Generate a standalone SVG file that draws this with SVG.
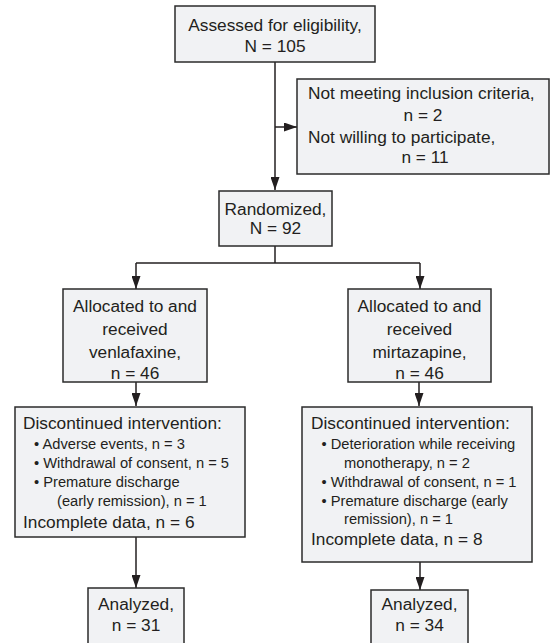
<svg xmlns="http://www.w3.org/2000/svg" width="551" height="643" viewBox="0 0 551 643">
<defs>
<style>
.box{fill:#f1f2f4;stroke:#2b2b2b;stroke-width:1.5}
.t{font-family:"Liberation Sans",Arial,sans-serif;font-size:17.3px;fill:#231f20}
.s{font-family:"Liberation Sans",Arial,sans-serif;font-size:14.7px;fill:#231f20}
.c{text-anchor:middle}
.ln{fill:none;stroke:#231f20;stroke-width:1.5}
</style>
<marker id="ah" markerUnits="userSpaceOnUse" markerWidth="13" markerHeight="9" refX="13" refY="4.5" orient="auto">
<path d="M0,0 L13,4.5 L0,9 z" fill="#231f20"/>
</marker>
</defs>
<rect width="551" height="643" fill="#fff"/>
<g id="connectors">
<path class="ln" d="M275,62 V190" marker-end="url(#ah)"/>
<path class="ln" d="M275,127 H297" marker-end="url(#ah)"/>
<path class="ln" d="M275,246 V263"/>
<path class="ln" d="M136,263 H420"/>
<path class="ln" d="M136,263 V289" marker-end="url(#ah)"/>
<path class="ln" d="M420,263 V289" marker-end="url(#ah)"/>
<path class="ln" d="M136,382 V406" marker-end="url(#ah)"/>
<path class="ln" d="M419,382 V406" marker-end="url(#ah)"/>
<path class="ln" d="M136,537 V588" marker-end="url(#ah)"/>
<path class="ln" d="M420,562 V590" marker-end="url(#ah)"/>
</g>
<g id="assessed">
<rect class="box" x="175" y="6" width="200" height="56"/>
<text class="t c" x="275" y="31">Assessed for eligibility,</text>
<text class="t c" x="275" y="52">N = 105</text>
</g>
<g id="excluded">
<rect class="box" x="297" y="79" width="252" height="95"/>
<text class="t" x="308" y="99">Not meeting inclusion criteria,</text>
<text class="t c" x="423" y="121">n = 2</text>
<text class="t" x="308" y="143">Not willing to participate,</text>
<text class="t c" x="425" y="163">n = 11</text>
</g>
<g id="randomized">
<rect class="box" x="219" y="191" width="113" height="55"/>
<text class="t c" x="275.5" y="215">Randomized,</text>
<text class="t c" x="275.5" y="234">N = 92</text>
</g>
<g id="alloc-venlafaxine">
<rect class="box" x="63" y="289" width="144" height="93"/>
<text class="t c" x="135" y="312">Allocated to and</text>
<text class="t c" x="135" y="335">received</text>
<text class="t c" x="135" y="358">venlafaxine,</text>
<text class="t c" x="135" y="379">n = 46</text>
</g>
<g id="alloc-mirtazapine">
<rect class="box" x="348" y="289" width="143" height="93"/>
<text class="t c" x="419.5" y="312">Allocated to and</text>
<text class="t c" x="419.5" y="335">received</text>
<text class="t c" x="419.5" y="358">mirtazapine,</text>
<text class="t c" x="419.5" y="379">n = 46</text>
</g>
<g id="disc-venlafaxine">
<rect class="box" x="15" y="407" width="230" height="130"/>
<text class="t" x="23" y="429">Discontinued intervention:</text>
<text class="s" x="34" y="449">• Adverse events, n = 3</text>
<text class="s" x="34" y="468">• Withdrawal of consent, n = 5</text>
<text class="s" x="34" y="487">• Premature discharge</text>
<text class="s" x="57" y="506">(early remission), n = 1</text>
<text class="t" x="23" y="528">Incomplete data, n = 6</text>
</g>
<g id="disc-mirtazapine">
<rect class="box" x="302" y="407" width="230" height="155"/>
<text class="t" x="311" y="429">Discontinued intervention:</text>
<text class="s" x="321.5" y="449">• Deterioration while receiving</text>
<text class="s" x="344" y="468">monotherapy, n = 2</text>
<text class="s" x="321.5" y="487">• Withdrawal of consent, n = 1</text>
<text class="s" x="321.5" y="506">• Premature discharge (early</text>
<text class="s" x="344" y="524">remission), n = 1</text>
<text class="t" x="311" y="545">Incomplete data, n = 8</text>
</g>
<g id="analyzed-venlafaxine">
<rect class="box" x="88" y="588" width="96" height="62"/>
<text class="t c" x="136" y="610">Analyzed,</text>
<text class="t c" x="136" y="631">n = 31</text>
</g>
<g id="analyzed-mirtazapine">
<rect class="box" x="371" y="590" width="97" height="60"/>
<text class="t c" x="419.5" y="610">Analyzed,</text>
<text class="t c" x="419.5" y="631">n = 34</text>
</g>
</svg>
